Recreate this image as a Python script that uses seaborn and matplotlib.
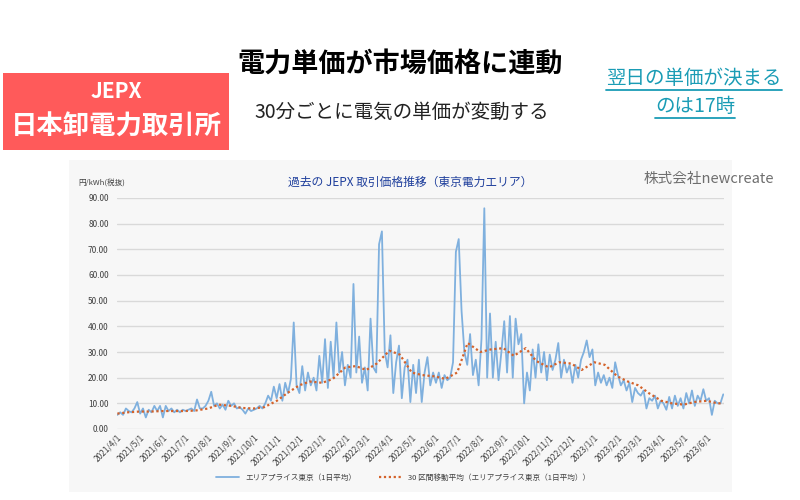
import numpy as np
import pandas as pd
import matplotlib
matplotlib.use("Agg")
import matplotlib.pyplot as plt
import matplotlib.dates as mdates
from matplotlib.patches import Rectangle
from matplotlib.lines import Line2D
from matplotlib.ticker import FuncFormatter
import seaborn as sns

price_2021 = [
    5.5, 6.5, 5.5, 8, 7, 6.5, 8, 10.5,        # Apr
    6, 8, 4.5, 7.5, 6.5, 9, 7, 9,             # May
    4.5, 9, 7, 8, 6.5, 7.5, 6.5, 7.5,         # Jun
    7, 7.5, 8, 7, 11.5, 8, 8, 9,              # Jul
    11, 14.5, 9, 10, 8, 9.5, 7.5, 11,         # Aug
    9, 10, 8, 8.5, 7.5, 6, 8, 7,              # Sep
    7.5, 8, 9, 8, 10, 13, 11, 16.5,           # Oct
    12, 17.5, 11, 18, 14, 19.5, 41.5, 17,     # Nov
    14, 24.5, 15, 22, 17, 20, 15, 28.5,       # Dec
]
price_2022 = [
    18, 35, 16, 34, 20, 41.5, 22, 30,         # Jan
    17, 25, 20, 56.5, 22, 36, 18, 24,         # Feb
    15, 43, 24, 22, 72, 77, 30, 24,           # Mar
    36.5, 14, 26, 32.5, 12, 24, 27, 10.5,     # Apr
    25, 14, 27, 10.5, 22, 28, 17, 22,         # May
    18, 22, 16, 21, 19, 20, 26, 69,           # Jun
    74, 46, 30, 25, 37, 21, 27, 17,           # Jul
    35, 86, 20, 45, 20, 34, 19, 30,           # Aug
    42, 22, 44, 20, 43, 33, 37, 10,           # Sep
    22, 15, 31, 20, 33, 22, 30, 19,           # Oct
    29, 23, 27, 33.5, 20, 27, 22, 25,         # Nov
    18, 25, 20, 27, 30, 34.5, 28, 31,         # Dec
]
price_2023 = [
    17, 22, 18, 21, 17, 20, 16, 26,           # Jan
    21, 17, 19, 15, 18, 10.5, 16, 14,         # Feb
    13, 15, 8, 12, 11, 13, 8, 11,             # Mar
    10, 7.5, 12.5, 8, 13, 9, 12, 8,           # Apr
    14, 10, 15, 9, 13, 11, 15.5, 11,          # May
    12, 5.5, 11, 10, 10, 13.5,                # Jun
]
price = price_2021 + price_2022 + price_2023
price_dates = pd.date_range("2021-04-01", "2023-06-23", periods=len(price))

# 30-period moving average, read at the 1st and 15th of each month
ma = [
    6.0, 6.5, 6.8, 6.8, 7.0, 7.0, 7.0, 7.2, 8.0, 9.5, 9.0, 8.2,
    8.0, 8.5, 11.0, 14.0, 17.0, 18.5,
    18.0, 19.5, 24.0, 24.5, 23.0, 25.5, 30.5, 29.0, 22.0, 21.0,
    20.5, 19.5, 22.0, 33.5, 30.0, 31.0, 31.5, 28.5, 31.5, 26.5,
    24.0, 26.0, 25.5, 23.0,
    26.0, 25.0, 20.5, 18.5, 17.0, 14.0, 11.0, 10.0, 9.5, 10.5,
    11.0, 10.0, 10.0,
]
ma_dates = list(pd.date_range("2021-04-01", "2023-06-15", freq="SMS")) + [pd.Timestamp("2023-06-23")]

sns.set_theme(style="white")
plt.rcParams["font.family"] = ["Noto Sans CJK JP", "DejaVu Sans"]

W, H = 800, 500
fig = plt.figure(figsize=(8, 5), dpi=100)
fig.patch.set_facecolor("white")


def fx(x):
    return x / W


def fy(y):
    return 1 - y / H


# grey chart panel
fig.patches.append(Rectangle((fx(69), fy(492)), fx(732 - 69), (492 - 160) / H,
                             transform=fig.transFigure, facecolor="#f7f7f7",
                             edgecolor="none", zorder=-5))
# red label box
fig.patches.append(Rectangle((fx(3), fy(150)), fx(226), (150 - 73) / H,
                             transform=fig.transFigure, facecolor="#ff5a5a",
                             edgecolor="none", zorder=-5))

fig.text(fx(116), fy(92), "JEPX", color="white", fontsize=15, fontweight="bold",
         ha="center", va="center")
fig.text(fx(116), fy(127), "日本卸電力取引所", color="white", fontsize=19,
         fontweight="bold", ha="center", va="center")

fig.text(fx(400), fy(64), "電力単価が市場価格に連動", fontsize=19.5, fontweight="bold",
         ha="center", va="center", color="black")
fig.text(fx(402), fy(112), "30分ごとに電気の単価が変動する", fontsize=14,
         ha="center", va="center", color="#222222")

teal = "#1a9cb5"
link1 = fig.text(fx(694), fy(79), "翌日の単価が決まる", fontsize=14, color=teal,
                 ha="center", va="center")
link2 = fig.text(fx(695), fy(107), "のは17時", fontsize=14, color=teal,
                 ha="center", va="center")

fig.text(fx(410), fy(182), "過去の JEPX 取引価格推移（東京電力エリア）", fontsize=8.5,
         color="#1f3f9c", ha="center", va="center")
fig.text(fx(644), fy(179), "株式会社newcreate", fontsize=10.5, color="#6e6e6e",
         ha="left", va="center")
fig.text(fx(78), fy(183), "円/kWh(税抜)", fontsize=5.5, color="#404040",
         ha="left", va="center")

ax = fig.add_axes([fx(117), fy(429), fx(724 - 117), (429 - 198) / H])
ax.set_facecolor("none")

sns.lineplot(x=price_dates, y=price, ax=ax, color="#7fb0de", linewidth=1.3,
             label="エリアプライス東京（1日平均）")
sns.lineplot(x=ma_dates, y=ma, ax=ax, color="#d4622a", linewidth=1.6,
             linestyle=(0, (1, 1.2)),
             label="30 区間移動平均（エリアプライス東京（1日平均））")

ax.set_ylim(0, 90)
ax.set_yticks(np.arange(0, 91, 10))
ax.yaxis.set_major_formatter(FuncFormatter(lambda v, p: f"{v:.2f}"))
ax.set_xlim(pd.Timestamp("2021-03-31 12:00"), pd.Timestamp("2023-06-24"))
ax.xaxis.set_major_locator(mdates.MonthLocator())
ax.xaxis.set_major_formatter(FuncFormatter(
    lambda v, p: (lambda d: f"{d.year}/{d.month}/{d.day}")(mdates.num2date(v))))
ax.grid(axis="y", color="#d9d9d9", linewidth=1.0)
ax.grid(axis="x", visible=False)
ax.set_axisbelow(True)
for s in ax.spines.values():
    s.set_visible(False)
ax.tick_params(axis="y", labelsize=6, colors="#404040", length=0, pad=6)
ax.tick_params(axis="x", labelsize=6, colors="#404040", length=0, pad=3)
for lab in ax.get_xticklabels():
    lab.set_rotation(45)
    lab.set_ha("right")
    lab.set_rotation_mode("anchor")
ax.set_xlabel("")
ax.set_ylabel("")

ax.legend(loc="center", bbox_to_anchor=(fx(403), fy(478)), bbox_transform=fig.transFigure,
          ncol=2, frameon=False, fontsize=5.5, handlelength=3, columnspacing=3,
          labelcolor="#404040")

# underline the link text
fig.canvas.draw()
for t in (link1, link2):
    bb = t.get_window_extent()
    fig.add_artist(Line2D([bb.x0 / W, bb.x1 / W], [(bb.y0 - 0.5) / H] * 2,
                          transform=fig.transFigure, color=teal, linewidth=1.3))

fig.savefig("out.png", dpi=100, facecolor="white")
